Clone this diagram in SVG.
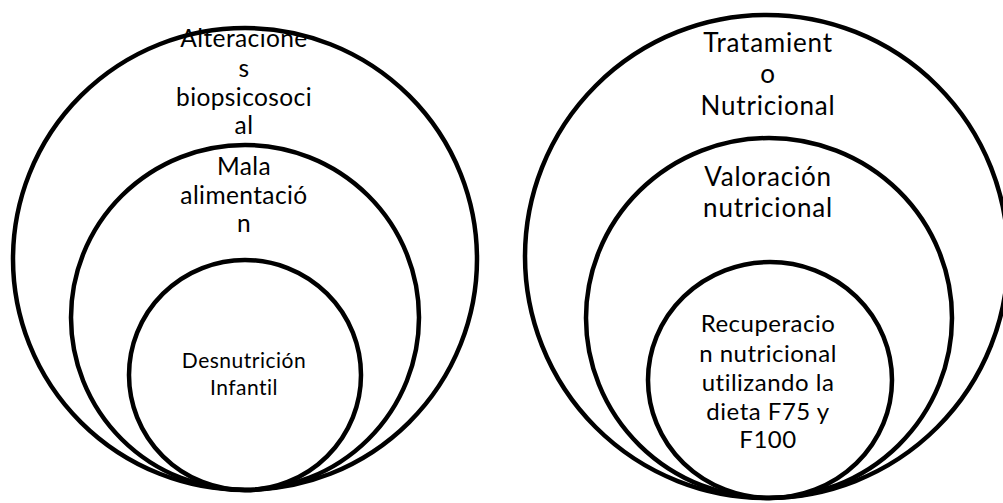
<svg xmlns="http://www.w3.org/2000/svg" width="1003" height="503" viewBox="0 0 1003 503">
<style>
.c{fill:none;stroke:#000;stroke-width:4.5}
.t{font-family:Lato,"Open Sans","Liberation Sans",sans-serif;fill:#000;text-anchor:middle}
.l{font-size:24.5px;letter-spacing:0.4px}
.m{font-size:21px;letter-spacing:0.5px}
.r{font-size:26px;letter-spacing:0.8px}
.s{font-size:24px;letter-spacing:0.5px}
</style>
<rect width="1003" height="503" fill="#fff"/>
<g id="left-outer">
<ellipse class="c" cx="245" cy="259" rx="232" ry="231"/>
<text class="t l"><tspan x="244" y="47">Alteracione</tspan><tspan x="244" y="77">s</tspan><tspan x="244" y="106">biopsicosoci</tspan><tspan x="244" y="134">al</tspan></text>
</g>
<g id="left-middle">
<ellipse class="c" cx="245" cy="317.5" rx="174" ry="172.5"/>
<text class="t l"><tspan x="244" y="175">Mala</tspan><tspan x="244" y="204">alimentació</tspan><tspan x="244" y="232">n</tspan></text>
</g>
<g id="left-inner">
<ellipse class="c" cx="245" cy="375" rx="116" ry="115"/>
<text class="t m"><tspan x="244" y="368">Desnutrición</tspan><tspan x="244" y="395">Infantil</tspan></text>
</g>
<g id="right-outer">
<ellipse class="c" cx="766.5" cy="256.5" rx="241.5" ry="241.5"/>
<text class="t r"><tspan x="768" y="52">Tratamient</tspan><tspan x="768" y="83">o</tspan><tspan x="768" y="115">Nutricional</tspan></text>
</g>
<g id="right-middle">
<ellipse class="c" cx="769" cy="318" rx="183" ry="180"/>
<text class="t r"><tspan x="768" y="186">Valoración</tspan><tspan x="768" y="217">nutricional</tspan></text>
</g>
<g id="right-inner">
<ellipse class="c" cx="770" cy="380" rx="122" ry="118"/>
<text class="t s"><tspan x="768" y="332">Recuperacio</tspan><tspan x="768" y="362">n nutricional</tspan><tspan x="768" y="391">utilizando la</tspan><tspan x="768" y="420">dieta F75 y</tspan><tspan x="768" y="448">F100</tspan></text>
</g>
<g id="connectors"/>
</svg>
